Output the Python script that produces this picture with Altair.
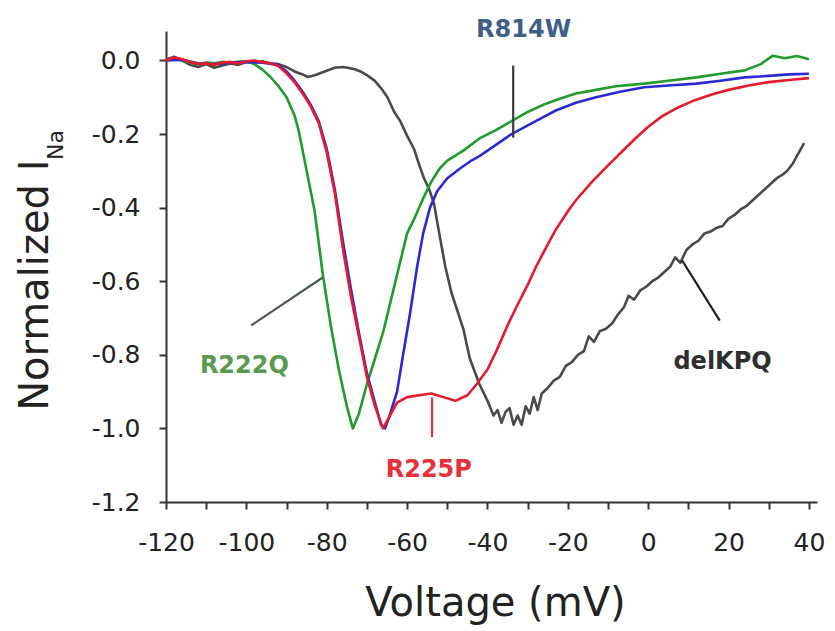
import altair as alt
import pandas as pd

# ---------------- data ----------------
# delKPQ (dark grey)
delkpq_v = [-120, -118, -116, -114, -112, -110, -108, -106, -104, -102, -100, -98, -96, -94, -92,
            -90, -88, -86, -84.7, -83, -80, -78, -76, -74.8, -73, -71.6, -70, -68.1, -66.5, -64.9,
            -63.2, -61.7, -60, -58.3, -56.8, -55.8, -54.5, -53.3, -52, -50.5, -49, -47.5, -46, -44.4,
            -42, -40, -38.5, -37.5, -36.5, -35.5, -34.5, -33.5, -32.5, -31.5, -30.5, -29.5, -28.5,
            -27.5, -26.5, -25, -23.5, -22, -20.5, -19, -17.5, -16, -14.8, -13.5, -12, -10.6, -9, -7.5,
            -6, -4.9, -3.5, -2, -0.5, 1, 2.5, 4, 5.5, 6.7, 8, 9.5, 11, 12.5, 14, 15.5, 17, 18.5, 20,
            21.5, 23, 24.5, 26, 27.5, 29, 30.5, 32, 33.5, 34.6, 36, 37.5, 38.8]
delkpq_i = [0.002, 0.010, 0.000, -0.012, -0.018, -0.010, -0.020, -0.014, -0.008, -0.012, -0.004, -0.006,
            -0.002, -0.008, -0.010,
            -0.018, -0.030, -0.038, -0.045, -0.040, -0.028, -0.020, -0.018, -0.020, -0.024, -0.030,
            -0.040, -0.055, -0.075, -0.100,
            -0.140, -0.165, -0.205, -0.240, -0.290, -0.320, -0.350, -0.390, -0.470, -0.560, -0.630,
            -0.680, -0.730, -0.810,
            -0.880, -0.925, -0.965, -0.950, -0.985, -0.955, -0.945, -0.990, -0.965, -0.990, -0.940,
            -0.960, -0.915,
            -0.950, -0.905, -0.890, -0.870, -0.860, -0.830, -0.820, -0.800, -0.790, -0.750, -0.765,
            -0.735, -0.730, -0.715, -0.690,
            -0.670, -0.640, -0.650, -0.625, -0.615, -0.600, -0.590, -0.575, -0.560, -0.535, -0.550,
            -0.515, -0.500, -0.490, -0.470, -0.465, -0.455, -0.450, -0.430,
            -0.420, -0.405, -0.395, -0.380, -0.365, -0.350, -0.335, -0.320, -0.310, -0.300, -0.280,
            -0.250, -0.225]

# R222Q (green)
r222q_v = [-120, -118, -116, -114, -112, -110, -108, -106, -104, -102, -100, -98, -96, -94, -92,
           -90, -88, -87, -85, -83, -81, -79, -77, -75, -73.5, -72, -70, -68, -66, -64, -62, -60,
           -58, -56, -54, -52, -50, -46, -42, -38, -34, -30, -26, -22, -18, -13, -8, -1, 5, 12, 18,
           24, 28, 31, 34, 37, 40]
r222q_i = [0.000, 0.004, 0.000, -0.006, -0.010, -0.006, -0.008, -0.004, -0.006, -0.004, -0.002, -0.010,
           -0.025, -0.045, -0.070,
           -0.100, -0.150, -0.190, -0.300, -0.410, -0.580, -0.720, -0.840, -0.940, -1.000, -0.960,
           -0.880, -0.810, -0.740, -0.650, -0.560, -0.470,
           -0.425, -0.375, -0.330, -0.295, -0.272, -0.245, -0.212, -0.190, -0.165, -0.140, -0.120,
           -0.104, -0.090, -0.080, -0.070, -0.063, -0.055, -0.046, -0.036,
           -0.027, -0.010, 0.013, 0.006, 0.012, 0.003]

# R814W (blue)
r814w_v = [-120, -116, -112, -108, -104, -100, -96, -92, -90, -88, -86, -84, -82, -80, -78, -76,
           -74, -72, -70, -68, -66.5, -65.5, -64.5, -62.5, -61, -59.3, -57.5, -56, -54.3, -52.5, -50,
           -47, -44, -42, -38, -34, -28, -23, -18, -13, -7, -1, 5, 12, 18, 24, 30, 35, 40]
r814w_i = [0.000, 0.002, -0.008, -0.010, -0.006, -0.004, -0.006, -0.012, -0.030, -0.055, -0.085,
           -0.120, -0.165, -0.240, -0.350, -0.490,
           -0.620, -0.740, -0.850, -0.930, -0.990, -1.000, -0.970, -0.900, -0.800, -0.690, -0.560,
           -0.470, -0.400, -0.355, -0.320,
           -0.295, -0.272, -0.260, -0.230, -0.200, -0.165, -0.136, -0.115, -0.100, -0.085, -0.073,
           -0.068, -0.063, -0.055, -0.046, -0.042, -0.038, -0.036]

# R225P (red)
r225p_v = [-120, -118, -116, -114, -112, -110, -108, -106, -104, -102, -100, -98, -96, -94, -92,
           -90, -88, -86, -84, -82, -80, -78, -76, -74, -72, -70, -68, -66, -64, -62.5, -60, -57,
           -54, -51, -48, -45, -42.7, -40, -37.8, -35, -32.8, -30, -27.9, -25, -23, -20, -18, -14,
           -10, -6, -3, 0, 3.4, 7, 11.6, 16, 20, 25, 30, 35, 40]
r225p_i = [0.000, 0.008, 0.004, -0.004, -0.010, -0.008, -0.012, -0.006, -0.004, -0.008, -0.002, 0.000,
           -0.004, -0.008, -0.015,
           -0.035, -0.060, -0.090, -0.125, -0.170, -0.250, -0.360, -0.510, -0.640, -0.750, -0.860,
           -0.940, -1.000, -0.960, -0.930, -0.915, -0.910,
           -0.905, -0.915, -0.925, -0.910, -0.880, -0.840, -0.790, -0.720, -0.670, -0.610, -0.560,
           -0.500, -0.460, -0.410, -0.380, -0.330,
           -0.285, -0.242, -0.210, -0.180, -0.152, -0.130, -0.108, -0.092, -0.080, -0.068, -0.059,
           -0.053, -0.048]

series_names = ["delKPQ", "R222Q", "R814W", "R225P"]
series_colors = ["#4a4a4a", "#1f9c2c", "#2a2ad2", "#e81a2c"]

# annotation labels and their leader lines (data units)
label_text = ["R814W", "R222Q", "R225P", "delKPQ"]
label_v = [-31.0, -100.5, -54.6, 18.5]
label_i = [0.082, -0.830, -1.114, -0.820]
label_colors = ["#3f5f88", "#5a9a4e", "#e8303a", "#2e2e2e"]
leader_v1 = [-33.6, -98.8, -53.8, 8.4]
leader_i1 = [-0.014, -0.720, -0.916, -0.543]
leader_v2 = [-33.6, -81.0, -53.8, 17.8]
leader_i2 = [-0.210, -0.590, -1.024, -0.707]
leader_colors = ["#3a3a3a", "#4b5b4b", "#e8303a", "#1e1e1e"]

x_ticks = list(range(-120, 41, 10))
y_ticks = [round(-0.1 * k, 1) for k in range(0, 13)]

# ---------------- build tables ----------------
rows = []
for name, vs, cs in [("delKPQ", delkpq_v, delkpq_i), ("R222Q", r222q_v, r222q_i),
                     ("R814W", r814w_v, r814w_i), ("R225P", r225p_v, r225p_i)]:
    for k, (v, c) in enumerate(zip(vs, cs)):
        rows.append({"series": name, "order": k, "v": v, "i": c})
curves = pd.DataFrame(rows)

labels = pd.DataFrame({"text": label_text, "v": label_v, "i": label_i, "color": label_colors})
leaders = pd.DataFrame({"v1": leader_v1, "i1": leader_i1, "v2": leader_v2, "i2": leader_i2,
                        "color": leader_colors})

FONT = "DejaVu Sans"

x_scale = alt.Scale(domain=[-120, 42], nice=False, zero=False)
y_scale = alt.Scale(domain=[-1.2, 0.08], nice=False, zero=False)

x_axis = alt.Axis(
    values=x_ticks,
    labelExpr="round(datum.value) % 20 == 0 ? (datum.value < 0 ? '-' : '') + format(abs(datum.value), 'd') : ''",
    grid=False, tickSize=7, tickWidth=2, tickColor="#333333",
    domainColor="#333333", domainWidth=2,
    labelFont=FONT, labelFontSize=25, labelColor="#222222", labelPadding=21,
    labelOverlap=False, labelFlush=False,
    title="Voltage (mV)", titleFont=FONT, titleFontSize=40, titleFontWeight="normal",
    titleColor="#222222", titleX=329, titleY=113, titleBaseline="alphabetic", titleAlign="center",
)
y_axis = alt.Axis(
    values=y_ticks,
    labelExpr="round(datum.value * 10) % 2 == 0 ? (datum.value < -0.001 ? '-' : '') + format(abs(datum.value), '.1f') : ''",
    grid=False, tickSize=7, tickWidth=2, tickColor="#333333",
    domainColor="#333333", domainWidth=2,
    labelFont=FONT, labelFontSize=25, labelColor="#222222", labelPadding=19,
    labelOverlap=False, labelFlush=False,
    title="Normalized I", titleFont=FONT, titleFontSize=40, titleFontWeight="normal",
    titleColor="#222222", titleAngle=270, titleAlign="right", titleBaseline="middle",
    titleX=-131, titleY=128,
)

lines = alt.Chart(curves).mark_line(strokeWidth=2.6, strokeJoin="round").encode(
    x=alt.X("v:Q", scale=x_scale, axis=x_axis),
    y=alt.Y("i:Q", scale=y_scale, axis=y_axis),
    color=alt.Color("series:N", scale=alt.Scale(domain=series_names, range=series_colors), legend=None),
    detail="series:N",
    order="order:Q",
)

leader_rules = alt.Chart(leaders).mark_rule(strokeWidth=2.2).encode(
    x="v1:Q", y="i1:Q", x2="v2:Q", y2="i2:Q",
    color=alt.Color("color:N", scale=None),
)

label_marks = alt.Chart(labels).mark_text(
    font=FONT, fontSize=24, fontWeight="bold", align="center", baseline="middle"
).encode(
    x="v:Q", y="i:Q", text="text:N", color=alt.Color("color:N", scale=None),
)

subscript = alt.Chart(pd.DataFrame({"t": ["Na"]})).mark_text(
    font=FONT, fontSize=22, angle=270, align="left", baseline="middle", color="#222222"
).encode(
    x=alt.value(-110), y=alt.value(129), text="t:N",
)

chart = alt.layer(lines, leader_rules, label_marks, subscript).properties(
    width=651, height=471,
    autosize=alt.AutoSizeParams(type="none"),
    padding={"left": 158, "top": 23, "right": 10, "bottom": 126},
    background="white",
).configure_view(stroke=None)

chart.save("out.html", embed_options={"renderer": "svg", "actions": False})
